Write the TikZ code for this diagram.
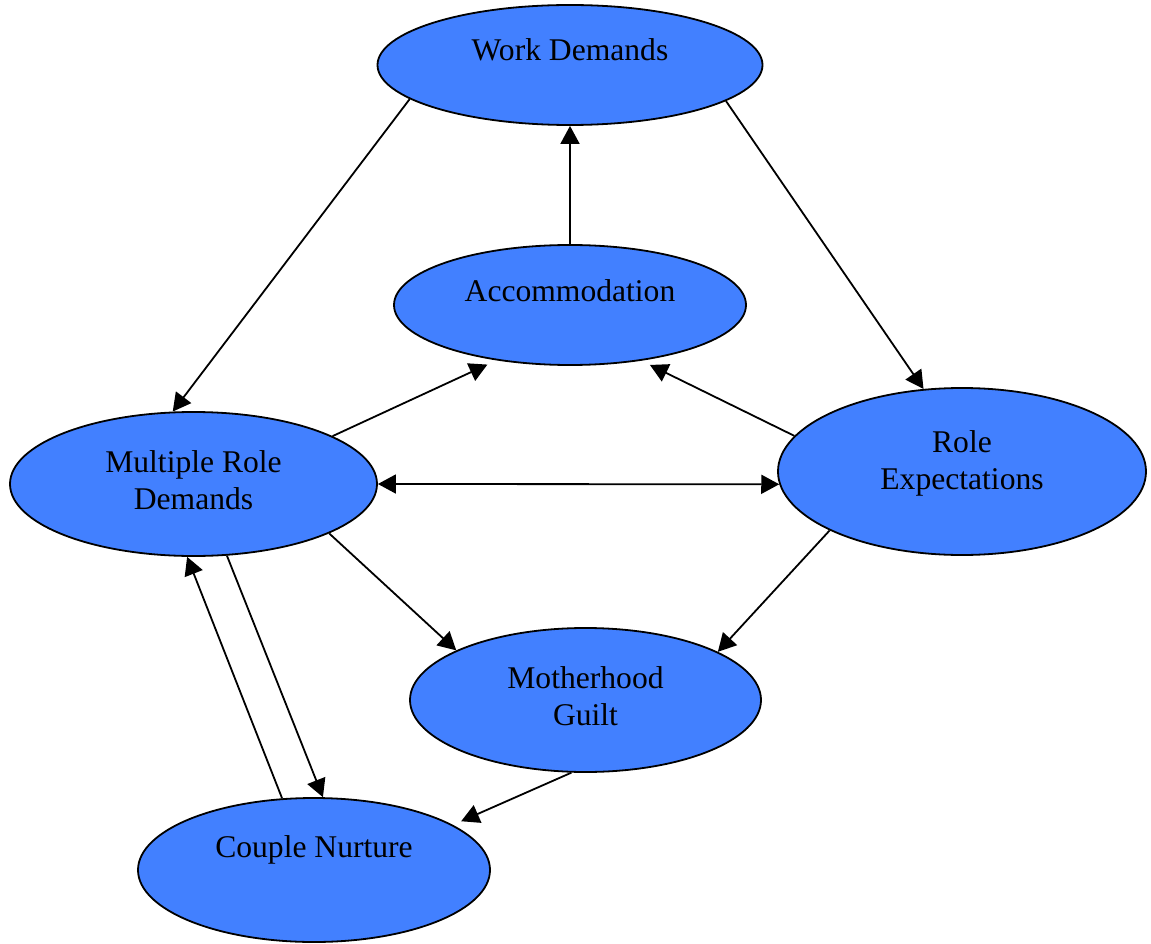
\documentclass[tikz,border=0pt]{standalone}
\usepackage{fontspec}
\setmainfont{Liberation Serif}
\usetikzlibrary{shapes.geometric,arrows.meta}
\definecolor{ellblue}{RGB}{66,128,255}
\newcommand{\ltxt}[2]{\raisebox{#1}[0pt][0pt]{\begin{tabular}{@{}c@{}}#2\end{tabular}}}
\begin{document}
\begin{tikzpicture}[x=1pt,y=-1pt,
  ell/.style={ellipse, draw=black, line width=1.8pt, fill=ellblue, inner sep=0pt,
    font=\fontsize{31.6}{37}\selectfont},
  conn/.style={line width=1.8pt, -{Triangle[length=18pt,width=19pt]}},
  biconn/.style={line width=1.8pt, {Triangle[length=18pt,width=19pt]}-{Triangle[length=18pt,width=19pt]}}]
\useasboundingbox (0,0) rectangle (1151,944);
\node[ell, minimum width=385pt, minimum height=120pt] (wd) at (570,65) {\ltxt{5.5pt}{Work Demands}};
\node[ell, minimum width=352pt, minimum height=120pt] (acc) at (570,305) {\ltxt{4.5pt}{Accommodation}};
\node[ell, minimum width=367pt, minimum height=144pt] (mrd) at (193.5,484) {\ltxt{-5.5pt}{Multiple Role\\Demands}};
\node[ell, minimum width=368pt, minimum height=167pt] (re) at (962,471.5) {\ltxt{2pt}{Role\\Expectations}};
\node[ell, minimum width=351pt, minimum height=144pt] (mg) at (585.5,700) {\ltxt{-6pt}{Motherhood\\Guilt}};
\node[ell, minimum width=352pt, minimum height=144pt] (cn) at (314,870) {\ltxt{13.5pt}{Couple Nurture}};

\draw[conn] (wd.192.3) -- (mrd.106.2);
\draw[conn] (wd.347.7) -- (re.115.3);
\draw[conn] (acc.north) -- (wd.south);
\draw[conn, shorten >=10pt] (mrd.19.1) -- (acc.217.4);
\draw[conn, shorten >=9.6pt] (re.168.1) -- (acc.322.9);
\draw[biconn] (mrd.east) -- (re.184.2);
\draw[conn] (mrd.340.3) -- (mg.159.4);
\draw[conn] (re.204.3) -- (mg.20.2);
\draw[conn] (mrd.295.3) -- (cn.83.7);
\draw[conn] (cn.114) -- (mrd.265.7);
\draw[conn, shorten >=9pt] (mg.259.4) -- (cn.18.4);
\end{tikzpicture}
\end{document}
